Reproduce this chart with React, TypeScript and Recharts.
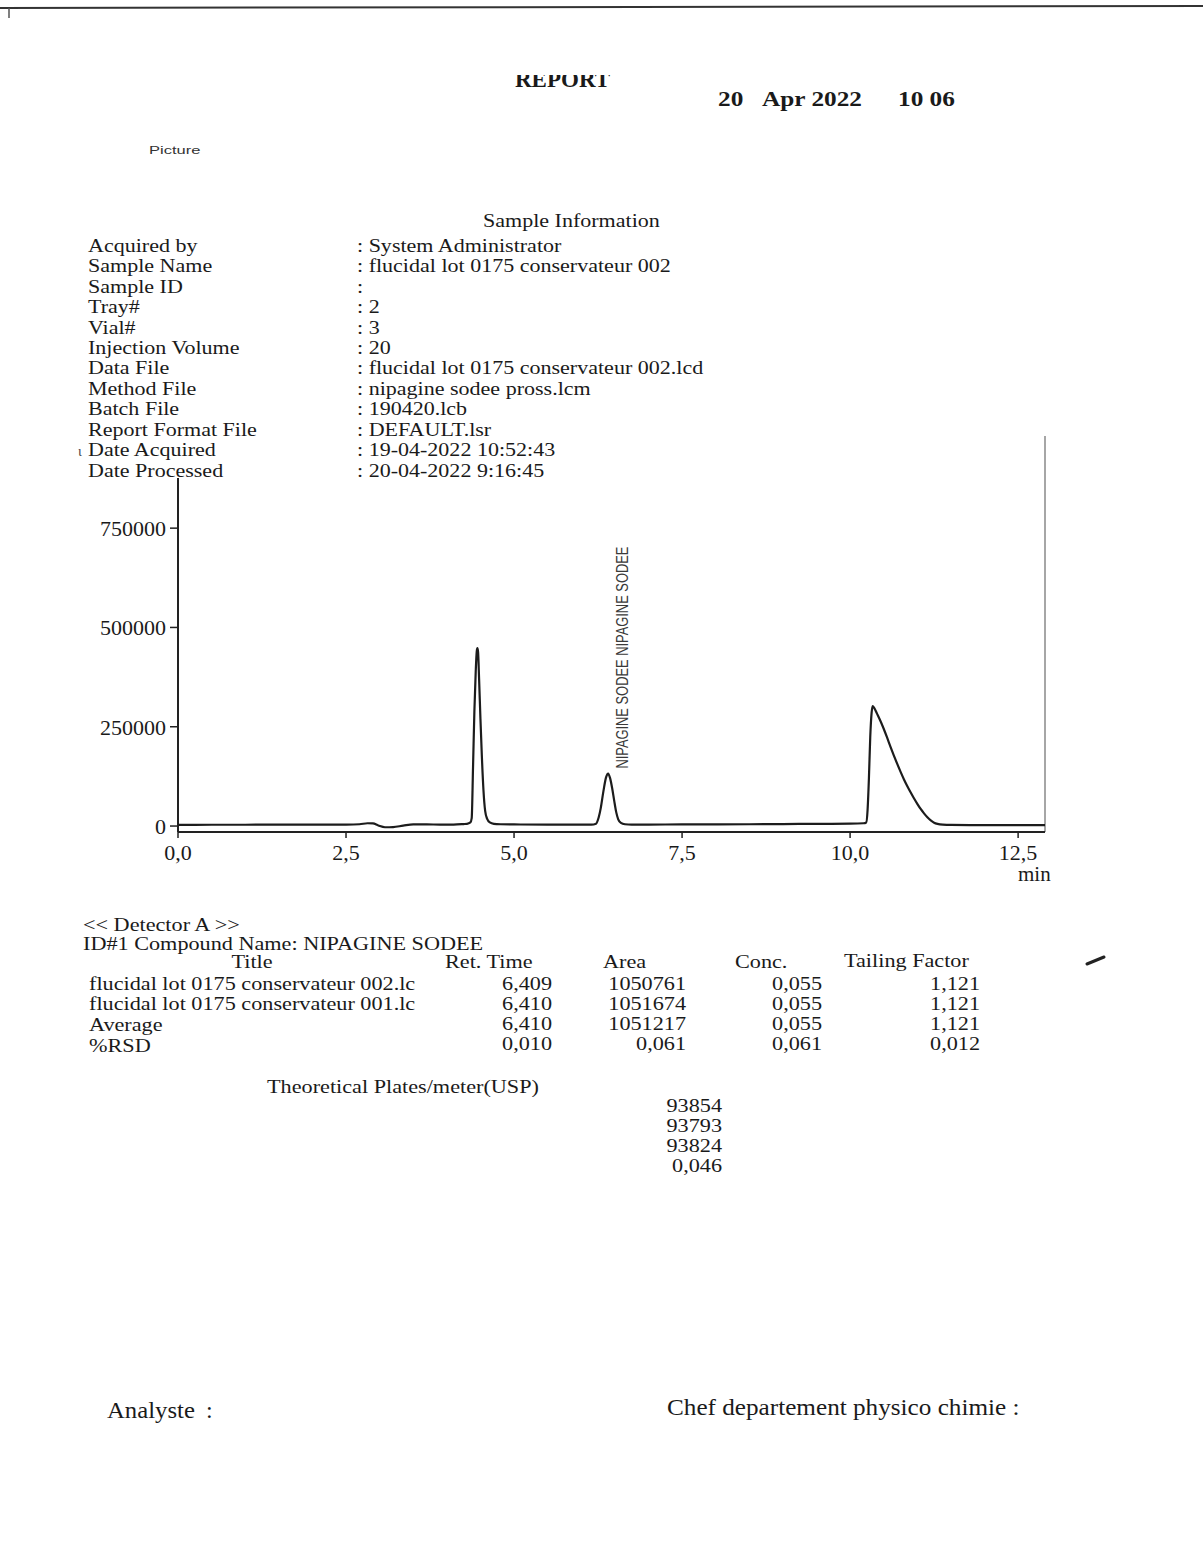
import React from 'react';
import { LineChart, Line, XAxis, YAxis, ReferenceLine, ReferenceDot } from 'recharts';

// ---- chromatogram (Detector A) ----
const retentionTimes = [
  0.0, 0.5, 1.0, 1.5, 2.0, 2.5, 2.7, 2.82, 2.9, 2.98, 3.08, 3.2, 3.35, 3.5, 3.7, 3.9, 4.1, 4.25,
  4.3, 4.35, 4.37, 4.39, 4.41, 4.43, 4.445, 4.455, 4.465, 4.48, 4.5, 4.52, 4.545, 4.57, 4.6, 4.64, 4.7, 4.8,
  5.0, 5.5, 6.0, 6.15, 6.22, 6.26, 6.29, 6.33, 6.37, 6.4, 6.43, 6.46, 6.49, 6.52, 6.55, 6.59, 6.65, 6.75,
  7.0, 7.5, 8.0, 8.5, 9.0, 9.5, 10.0, 10.2, 10.24, 10.26, 10.28, 10.3, 10.32, 10.335, 10.36, 10.4, 10.45,
  10.5, 10.55, 10.6, 10.65, 10.7, 10.75, 10.8, 10.85, 10.9, 10.95, 11.0, 11.05, 11.1, 11.15, 11.2, 11.25,
  11.3, 11.38, 11.5, 12.0, 12.5, 12.9,
];
const signalCounts = [
  3000, 3200, 3300, 3500, 3500, 3800, 4500, 7000, 6500, 1500, -3000, -2500, 1000, 4000, 4200, 3500, 3800, 5000,
  5500, 9000, 20000, 150000, 290000, 390000, 440000, 448000, 438000, 370000, 270000, 180000, 90000, 38000, 18000, 9000, 5500, 4500,
  4000, 3500, 3500, 3500, 6000, 22000, 45000, 88000, 123000, 132000, 120000, 95000, 64000, 35000, 17000, 8000, 4500, 3500,
  3800, 4000, 4200, 4500, 5000, 5500, 6000, 7000, 9000, 40000, 120000, 225000, 285000, 302000, 297000, 283000, 265000,
  245000, 223000, 200000, 178000, 157000, 137000, 118000, 101000, 85000, 70000, 56000, 43000, 32000, 22000, 14000, 8500,
  5500, 3500, 2800, 2500, 2500, 2500,
];
const timeTicks = [0, 2.5, 5, 7.5, 10, 12.5];
const intensityTicks = [0, 250000, 500000, 750000];
const timeDomain = [0, 12.9];
const intensityDomain = [-15000, 982000];
const intensityAxisTop = 876000;
const peakName = 'NIPAGINE SODEE';
const peakRetTime = 6.409;
const peakApex = 132000;

// ---- sample information ----
const infoLabels = [
  'Acquired by', 'Sample Name', 'Sample ID', 'Tray#', 'Vial#', 'Injection Volume', 'Data File',
  'Method File', 'Batch File', 'Report Format File', 'Date Acquired', 'Date Processed',
];
const infoValues = [
  ': System Administrator', ': flucidal lot 0175 conservateur 002', ':', ': 2', ': 3', ': 20',
  ': flucidal lot 0175 conservateur 002.lcd', ': nipagine sodee pross.lcm', ': 190420.lcb',
  ': DEFAULT.lsr', ': 19-04-2022 10:52:43', ': 20-04-2022 9:16:45',
];

// ---- results table ----
const rowTitles = ['flucidal lot 0175 conservateur 002.lc', 'flucidal lot 0175 conservateur 001.lc', 'Average', '%RSD'];
const retTimeCol = ['6,409', '6,410', '6,410', '0,010'];
const areaCol = ['1050761', '1051674', '1051217', '0,061'];
const concCol = ['0,055', '0,055', '0,055', '0,061'];
const tailingCol = ['1,121', '1,121', '1,121', '0,012'];
const platesCol = ['93854', '93793', '93824', '0,046'];

const SERIF = "'Liberation Serif', 'Times New Roman', serif";
const SANS = "'Liberation Sans', Arial, sans-serif";
const INK = '#1a1a1a';

const data = retentionTimes.map((t, i) => ({ t, v: signalCounts[i] }));
const fmtTime = (v: number) => v.toFixed(1).replace('.', ',');

type TxtProps = {
  x: number; y: number; size?: number; anchor?: 'start' | 'middle' | 'end';
  bold?: boolean; family?: string; sx?: number; fill?: string; children: React.ReactNode;
};
const Txt = ({ x, y, size = 22, anchor = 'start', bold = false, family = SERIF, sx = 1, fill = INK, children }: TxtProps) => (
  <text
    transform={`translate(${x},${y}) scale(${sx},1)`}
    fontSize={size}
    fontFamily={family}
    fontWeight={bold ? 'bold' : 'normal'}
    textAnchor={anchor}
    fill={fill}
  >
    {children}
  </text>
);

// body text of the sample block and of the results table
const Info = (p: Omit<TxtProps, 'size' | 'sx'>) => <Txt {...p} size={19.5} sx={1.13} />;
const Cell = (p: Omit<TxtProps, 'size' | 'sx'>) => <Txt {...p} size={19} sx={1.17} />;

const renderPeakLabel = (props: any) => {
  const vb = props.viewBox || { x: 0, y: 0 };
  const x = vb.x + 19;
  const y = vb.y - 5;
  return (
    <text
      transform={`translate(${x},${y}) rotate(-90)`}
      fontSize={16}
      fontFamily={SANS}
      fill="#3a3a3a"
      textLength={222}
      lengthAdjust="spacingAndGlyphs"
    >
      {`${peakName} ${peakName}`}
    </text>
  );
};

const tickStyle = { fill: INK, fontSize: 22, fontFamily: SERIF };

export default function App() {
  const rowBase = 251.7;
  const rowStep = 20.45;
  const valueBase = [990, 1010, 1030, 1050];
  const titleBase = [990, 1010, 1031, 1052];
  const plateBase = [1112, 1132, 1152, 1172];
  return (
    <div style={{ position: 'absolute', left: 0, top: 0, width: 1203, height: 1559, background: '#fff', overflow: 'hidden' }}>
      <svg width={1203} height={1559} style={{ position: 'absolute', left: 0, top: 0 }}>
        <defs>
          <clipPath id="headClip">
            <rect x={0} y={75} width={1203} height={40} />
          </clipPath>
        </defs>
        {/* page edge */}
        <line x1={0} y1={8} x2={1203} y2={6} stroke="#333" strokeWidth={2} />
        <line x1={9} y1={8} x2={9} y2={18} stroke="#555" strokeWidth={1.5} />

        {/* header */}
        <g clipPath="url(#headClip)">
          <Txt x={515} y={87} size={23} bold>REPORT</Txt>
        </g>
        <Txt x={718} y={106} size={22} bold sx={1.15}>20</Txt>
        <Txt x={762} y={106} size={22} bold sx={1.15}>Apr 2022</Txt>
        <Txt x={898} y={106} size={22} bold sx={1.15}>10 06</Txt>
        <Txt x={149} y={154} size={11} family={SANS} sx={1.5} fill="#333">Picture</Txt>

        {/* sample information */}
        <Info x={483} y={227}>Sample Information</Info>
        {infoLabels.map((s, i) => (
          <Info key={s} x={88} y={rowBase + rowStep * i}>{s}</Info>
        ))}
        {infoValues.map((s, i) => (
          <Info key={`v${i}`} x={357} y={rowBase + rowStep * i}>{s}</Info>
        ))}
        <Txt x={78} y={rowBase + rowStep * 10} size={14} fill="#444">ι</Txt>

        {/* results */}
        <Cell x={83} y={931}>{'<< Detector A >>'}</Cell>
        <Cell x={83} y={950}>ID#1 Compound Name: NIPAGINE SODEE</Cell>
        <Cell x={252} y={968} anchor="middle">Title</Cell>
        <Cell x={445} y={968}>Ret. Time</Cell>
        <Cell x={603} y={968}>Area</Cell>
        <Cell x={735} y={968}>Conc.</Cell>
        <Cell x={844} y={967}>Tailing Factor</Cell>
        {rowTitles.map((s, i) => (
          <Cell key={s} x={89} y={titleBase[i]}>{s}</Cell>
        ))}
        {rowTitles.map((_, i) => (
          <g key={`r${i}`}>
            <Cell x={552} y={valueBase[i]} anchor="end">{retTimeCol[i]}</Cell>
            <Cell x={686} y={valueBase[i]} anchor="end">{areaCol[i]}</Cell>
            <Cell x={822} y={valueBase[i]} anchor="end">{concCol[i]}</Cell>
            <Cell x={980} y={valueBase[i]} anchor="end">{tailingCol[i]}</Cell>
          </g>
        ))}
        <Cell x={267} y={1093}>Theoretical Plates/meter(USP)</Cell>
        {platesCol.map((s, i) => (
          <Cell key={`p${i}`} x={722} y={plateBase[i]} anchor="end">{s}</Cell>
        ))}
        <line x1={1087} y1={964} x2={1104} y2={957} stroke="#222" strokeWidth={3} strokeLinecap="round" />

        {/* signatures */}
        <Txt x={107} y={1418} size={24} sx={1.03}>Analyste</Txt>
        <Txt x={206} y={1418} size={24}>:</Txt>
        <Txt x={667} y={1415} size={24} sx={1.05}>Chef departement physico chimie :</Txt>
      </svg>

      <div style={{ position: 'absolute', left: 0, top: 400 }}>
        <LineChart width={1203} height={480} data={data} margin={{ top: 36, right: 158, bottom: 18, left: 118 }}>
          <XAxis
            dataKey="t"
            type="number"
            domain={timeDomain}
            ticks={timeTicks}
            interval={0}
            allowDataOverflow
            tickFormatter={fmtTime}
            height={30}
            tickSize={6}
            tickMargin={6}
            axisLine={{ stroke: '#222', strokeWidth: 2 }}
            tickLine={{ stroke: '#222', strokeWidth: 1.5 }}
            tick={tickStyle}
          />
          <YAxis
            type="number"
            domain={intensityDomain}
            ticks={intensityTicks}
            interval={0}
            allowDataOverflow
            width={60}
            tickSize={8}
            tickMargin={4}
            axisLine={false}
            tickLine={{ stroke: '#222', strokeWidth: 1.5 }}
            tick={tickStyle}
          />
          <ReferenceLine
            segment={[{ x: 0, y: intensityDomain[0] }, { x: 0, y: intensityAxisTop }]}
            stroke="#222"
            strokeWidth={2}
          />
          <ReferenceLine x={timeDomain[1]} stroke="#888" strokeWidth={1.5} />
          <Line
            dataKey="v"
            type="monotone"
            stroke="#1c1c1c"
            strokeWidth={2.2}
            dot={false}
            activeDot={false}
            isAnimationActive={false}
          />
          <ReferenceDot x={peakRetTime} y={peakApex} r={0} stroke="none" fill="none" label={renderPeakLabel} />
        </LineChart>
      </div>
      <svg width={1203} height={1559} style={{ position: 'absolute', left: 0, top: 0, pointerEvents: 'none' }}>
        <Txt x={1018} y={881} size={21}>min</Txt>
      </svg>
    </div>
  );
}
